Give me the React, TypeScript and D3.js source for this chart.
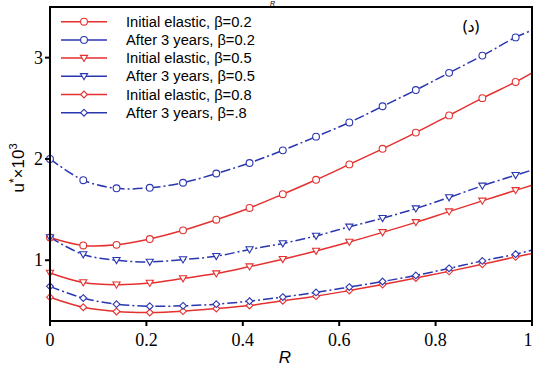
import React from "react";
import * as d3 from "d3";

const rValues = [0, 0.069, 0.138, 0.207, 0.276, 0.345, 0.414, 0.483, 0.552, 0.621, 0.69, 0.759, 0.828, 0.897, 0.966, 1.0];

const initial02 = [1.225, 1.146, 1.152, 1.209, 1.295, 1.4, 1.516, 1.652, 1.794, 1.946, 2.1, 2.26, 2.43, 2.6, 2.76, 2.85];
const after02 = [2.0, 1.79, 1.71, 1.715, 1.765, 1.856, 1.96, 2.085, 2.22, 2.36, 2.52, 2.68, 2.85, 3.02, 3.2, 3.27];
const initial05 = [0.874, 0.78, 0.758, 0.775, 0.82, 0.868, 0.937, 1.01, 1.092, 1.18, 1.275, 1.374, 1.48, 1.586, 1.69, 1.74];
const after05 = [1.225, 1.057, 1.0, 0.983, 1.007, 1.04, 1.106, 1.166, 1.24, 1.33, 1.415, 1.51, 1.62, 1.735, 1.84, 1.89];
const initial08 = [0.635, 0.536, 0.494, 0.484, 0.497, 0.523, 0.553, 0.6, 0.645, 0.7, 0.76, 0.825, 0.89, 0.96, 1.033, 1.067];
const after08 = [0.742, 0.626, 0.566, 0.546, 0.55, 0.566, 0.596, 0.636, 0.682, 0.735, 0.79, 0.85, 0.92, 0.993, 1.06, 1.1];

const seriesLabels = [
  "Initial elastic, β=0.2",
  "After 3 years, β=0.2",
  "Initial elastic, β=0.5",
  "After 3 years, β=0.5",
  "Initial elastic, β=0.8",
  "After 3 years, β=.8",
];
const xTicks = [0, 0.2, 0.4, 0.6, 0.8, 1];
const xTickLabels = ["0", "0.2", "0.4", "0.6", "0.8", "1"];
const yTicks = [1, 2, 3];

const RED = "#e4312f";
const BLUE = "#2a36b0";

const series = [
  { name: seriesLabels[0], values: initial02, color: RED, marker: "circle", dashed: false },
  { name: seriesLabels[1], values: after02, color: BLUE, marker: "circle", dashed: true },
  { name: seriesLabels[2], values: initial05, color: RED, marker: "triangle", dashed: false },
  { name: seriesLabels[3], values: after05, color: BLUE, marker: "triangle", dashed: true },
  { name: seriesLabels[4], values: initial08, color: RED, marker: "diamond", dashed: false },
  { name: seriesLabels[5], values: after08, color: BLUE, marker: "diamond", dashed: true },
];

const W = 534;
const H = 368;
const left = 50;
const right = 532;
const top = 7;
const bottom = 321;

function Marker({ type, x, y, color }: { type: string; x: number; y: number; color: string }) {
  if (type === "circle") {
    return <circle cx={x} cy={y} r={3.4} fill="#fff" stroke={color} strokeWidth={1.1} />;
  }
  if (type === "triangle") {
    const s = 3.6;
    const p = `${x - s},${y - s * 0.75} ${x + s},${y - s * 0.75} ${x},${y + s * 0.95}`;
    return <polygon points={p} fill="#fff" stroke={color} strokeWidth={1.1} />;
  }
  const s = 3.4;
  const p = `${x},${y - s} ${x + s},${y} ${x},${y + s} ${x - s},${y}`;
  return <polygon points={p} fill="#fff" stroke={color} strokeWidth={1.1} />;
}

export default function App() {
  const x = d3.scaleLinear().domain([0, 1]).range([left, right]);
  const y = d3.scaleLinear().domain([0.4, 3.5]).range([bottom, top]);
  const line = d3
    .line<number>()
    .x((_, i) => x(rValues[i]))
    .y((d) => y(d))
    .curve(d3.curveCatmullRom.alpha(0.5));

  const dash = "10,3,2,3";
  const legendX1 = 61;
  const legendX2 = 107;
  const legendY0 = 21.7;
  const legendStep = 18.2;

  return (
    <svg
      width={W}
      height={H}
      style={{ position: "absolute", left: 0, top: 0, background: "#fff" }}
    >
      <rect x={0} y={0} width={W} height={H} fill="#fff" />
      <text x={270} y={6} fontFamily="Liberation Sans, Arial, sans-serif" fontStyle="italic" fontSize={7} fill="#000">R</text>
      <g>
        {series.map((s, k) => (
          <path
            key={k}
            d={line(s.values) || ""}
            fill="none"
            stroke={s.color}
            strokeWidth={1.5}
            strokeDasharray={s.dashed ? dash : undefined}
          />
        ))}
        {series.map((s, k) =>
          s.values.slice(0, 15).map((v, i) => (
            <Marker key={`${k}-${i}`} type={s.marker} x={x(rValues[i])} y={y(v)} color={s.color} />
          ))
        )}
      </g>
      <rect x={left} y={top} width={right - left} height={bottom - top} fill="none" stroke="#000" strokeWidth={2} />
      {xTicks.map((t, i) => (
        <g key={t}>
          <line x1={x(t)} x2={x(t)} y1={bottom} y2={bottom + 5} stroke="#000" strokeWidth={2} />
          <text
            x={Math.min(x(t), W - 6)}
            y={346}
            textAnchor="middle"
            fontFamily="Liberation Serif, Times New Roman, serif"
            fontSize={18}
            fill="#000"
          >
            {xTickLabels[i]}
          </text>
        </g>
      ))}
      {yTicks.map((t) => (
        <g key={t}>
          <line x1={left - 5} x2={left} y1={y(t)} y2={y(t)} stroke="#000" strokeWidth={2} />
          <text
            x={left - 7}
            y={y(t) + 6}
            textAnchor="end"
            fontFamily="Liberation Serif, Times New Roman, serif"
            fontSize={18}
            fill="#000"
          >
            {t}
          </text>
        </g>
      ))}
      <text
        x={285}
        y={363}
        textAnchor="middle"
        fontFamily="Liberation Sans, Arial, sans-serif"
        fontStyle="italic"
        fontSize={17}
        fill="#000"
      >
        R
      </text>
      <text
        transform={`translate(24,168) rotate(-90)`}
        textAnchor="middle"
        fontFamily="Liberation Sans, Arial, sans-serif"
        fontSize={17}
        fill="#000"
      >
        u<tspan dy={-6} fontSize={12}>*</tspan>
        <tspan dy={6}>×10</tspan>
        <tspan dy={-7} fontSize={11}>3</tspan>
      </text>
      <text
        x={471}
        y={32}
        textAnchor="middle"
        fontFamily="Noto Sans, DejaVu Sans, sans-serif"
        fontSize={16}
        fill="#000"
      >
        (د)
      </text>
      {series.map((s, k) => {
        const ly = legendY0 + k * legendStep;
        return (
          <g key={`lg-${k}`}>
            <line x1={legendX1} x2={legendX2} y1={ly} y2={ly} stroke={s.color} strokeWidth={1.5} />
            <Marker type={s.marker} x={(legendX1 + legendX2) / 2} y={ly} color={s.color} />
            <text
              x={126}
              y={ly + 5}
              fontFamily="Liberation Sans, Arial, sans-serif"
              fontSize={14.7}
              fill="#000"
            >
              {s.name}
            </text>
          </g>
        );
      })}
    </svg>
  );
}
